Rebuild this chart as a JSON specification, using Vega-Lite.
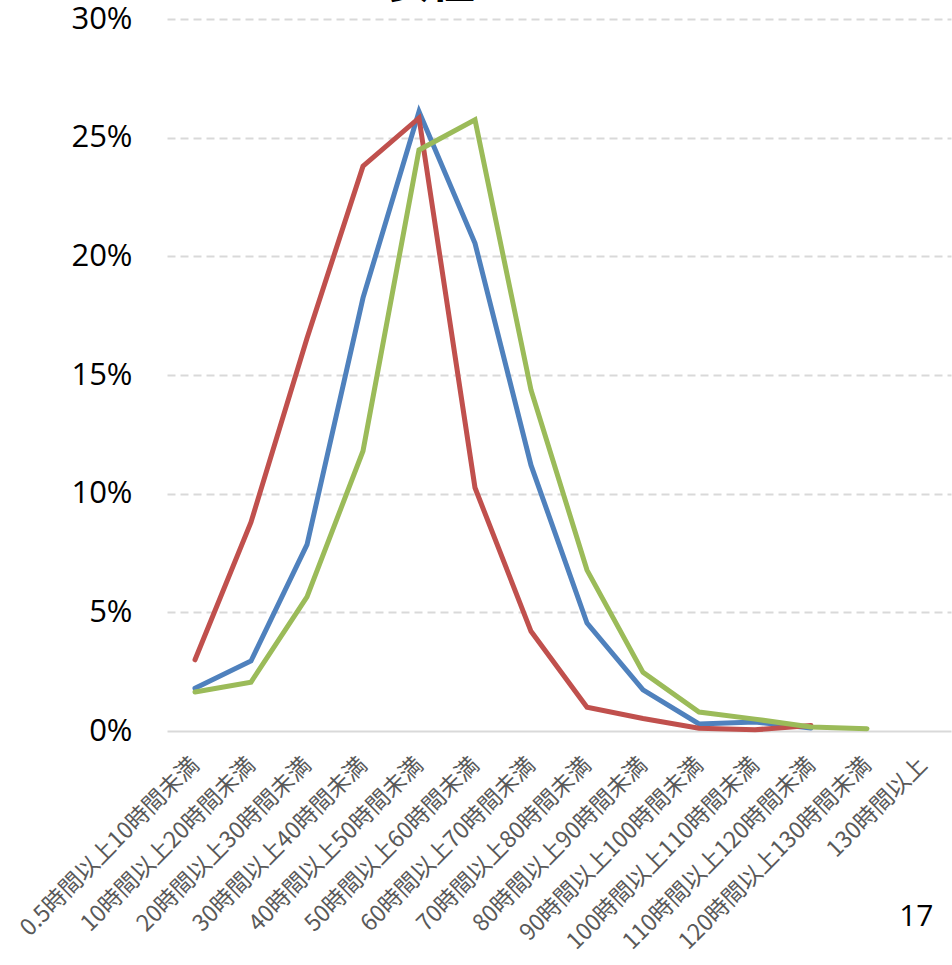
{
  "$schema": "https://vega.github.io/schema/vega-lite/v6.json",
  "autosize": {"type": "none"},
  "width": 784,
  "height": 712,
  "padding": {"left": 167, "top": 19, "right": 1, "bottom": 234},
  "background": "white",
  "title": {
    "text": "女性",
    "anchor": "start",
    "frame": "group",
    "dx": 220,
    "offset": -4,
    "fontSize": 44,
    "font": "Noto Sans CJK JP",
    "fontWeight": "bold",
    "color": "#000000"
  },
  "config": {
    "view": {"stroke": null},
    "axis": {"domain": false, "ticks": false}
  },
  "data": {
    "values": [
      {"c": "0.5時間以上10時間未満", "s": "A", "v": 1.8},
      {"c": "10時間以上20時間未満", "s": "A", "v": 2.95},
      {"c": "20時間以上30時間未満", "s": "A", "v": 7.85},
      {"c": "30時間以上40時間未満", "s": "A", "v": 18.25},
      {"c": "40時間以上50時間未満", "s": "A", "v": 26.1},
      {"c": "50時間以上60時間未満", "s": "A", "v": 20.55},
      {"c": "60時間以上70時間未満", "s": "A", "v": 11.2},
      {"c": "70時間以上80時間未満", "s": "A", "v": 4.55},
      {"c": "80時間以上90時間未満", "s": "A", "v": 1.73},
      {"c": "90時間以上100時間未満", "s": "A", "v": 0.3},
      {"c": "100時間以上110時間未満", "s": "A", "v": 0.38},
      {"c": "110時間以上120時間未満", "s": "A", "v": 0.13},
      {"c": "0.5時間以上10時間未満", "s": "B", "v": 3.0},
      {"c": "10時間以上20時間未満", "s": "B", "v": 8.8},
      {"c": "20時間以上30時間未満", "s": "B", "v": 16.55},
      {"c": "30時間以上40時間未満", "s": "B", "v": 23.8},
      {"c": "40時間以上50時間未満", "s": "B", "v": 25.83},
      {"c": "50時間以上60時間未満", "s": "B", "v": 10.25},
      {"c": "60時間以上70時間未満", "s": "B", "v": 4.2},
      {"c": "70時間以上80時間未満", "s": "B", "v": 1.0},
      {"c": "80時間以上90時間未満", "s": "B", "v": 0.53},
      {"c": "90時間以上100時間未満", "s": "B", "v": 0.12},
      {"c": "100時間以上110時間未満", "s": "B", "v": 0.05},
      {"c": "110時間以上120時間未満", "s": "B", "v": 0.23},
      {"c": "0.5時間以上10時間未満", "s": "C", "v": 1.64},
      {"c": "10時間以上20時間未満", "s": "C", "v": 2.06},
      {"c": "20時間以上30時間未満", "s": "C", "v": 5.65},
      {"c": "30時間以上40時間未満", "s": "C", "v": 11.8},
      {"c": "40時間以上50時間未満", "s": "C", "v": 24.48},
      {"c": "50時間以上60時間未満", "s": "C", "v": 25.75},
      {"c": "60時間以上70時間未満", "s": "C", "v": 14.37},
      {"c": "70時間以上80時間未満", "s": "C", "v": 6.78},
      {"c": "80時間以上90時間未満", "s": "C", "v": 2.47},
      {"c": "90時間以上100時間未満", "s": "C", "v": 0.8},
      {"c": "100時間以上110時間未満", "s": "C", "v": 0.5},
      {"c": "110時間以上120時間未満", "s": "C", "v": 0.17},
      {"c": "120時間以上130時間未満", "s": "C", "v": 0.1}
    ]
  },
  "mark": {"type": "line", "strokeWidth": 5, "strokeCap": "round", "strokeJoin": "miter"},
  "encoding": {
    "x": {
      "field": "c",
      "type": "nominal",
      "scale": {
        "type": "point",
        "padding": 0.5,
        "domain": [
          "0.5時間以上10時間未満", "10時間以上20時間未満", "20時間以上30時間未満",
          "30時間以上40時間未満", "40時間以上50時間未満", "50時間以上60時間未満",
          "60時間以上70時間未満", "70時間以上80時間未満", "80時間以上90時間未満",
          "90時間以上100時間未満", "100時間以上110時間未満", "110時間以上120時間未満",
          "120時間以上130時間未満", "130時間以上"
        ]
      },
      "axis": {
        "title": "17",
        "titleFont": "Open Sans",
        "titleFontSize": 30,
        "titleFontWeight": "normal",
        "titleColor": "#000000",
        "titleAlign": "right",
        "titleAnchor": null,
        "titleBaseline": "alphabetic",
        "titleX": 766,
        "titleY": 194,
        "labelAngle": -45,
        "labelAlign": "right",
        "labelBaseline": "middle",
        "labelPadding": 30,
        "labelFont": "Noto Sans CJK JP",
        "labelFontSize": 23,
        "labelColor": "#595959",
        "labelLimit": 400,
        "labelOverlap": false,
        "grid": false
      }
    },
    "y": {
      "field": "v",
      "type": "quantitative",
      "scale": {"domain": [0, 30], "nice": false},
      "axis": {
        "title": null,
        "values": [0, 5, 10, 15, 20, 25, 30],
        "labelExpr": "datum.value + '%'",
        "labelFont": "Open Sans",
        "labelFontSize": 31,
        "labelColor": "#000000",
        "labelPadding": 35,
        "grid": true,
        "gridColor": "#d9d9d9",
        "gridWidth": 2,
        "gridDash": {"condition": {"test": "datum.value === 0", "value": []}, "value": [8, 5]}
      }
    },
    "color": {
      "field": "s",
      "type": "nominal",
      "scale": {"domain": ["A", "B", "C"], "range": ["#4f81bd", "#c0504d", "#9bbb59"]},
      "legend": null
    }
  }
}
